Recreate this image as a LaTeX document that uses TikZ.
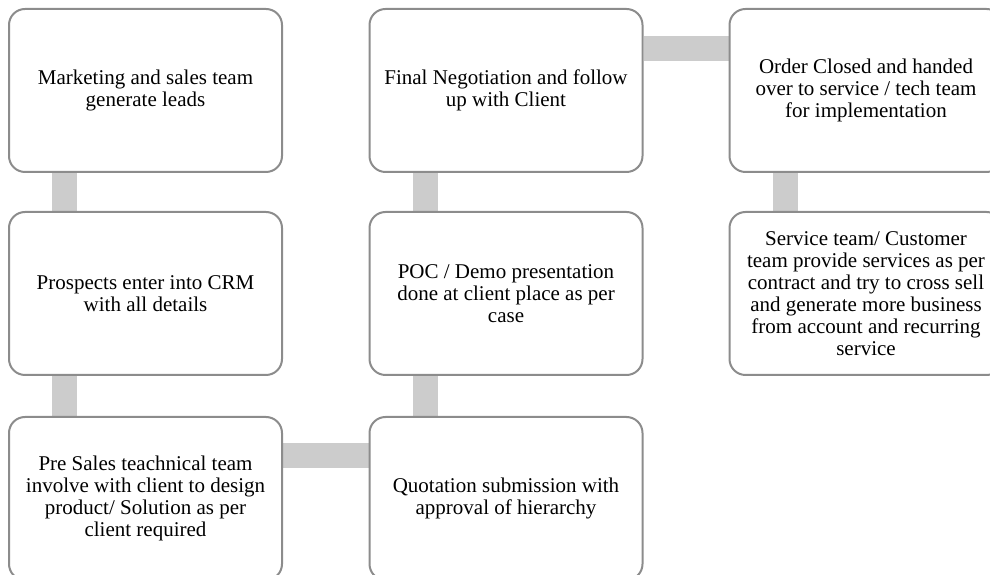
\documentclass[tikz,border=0pt]{standalone}
\usepackage{fontspec}
\setmainfont{Liberation Serif}
\usetikzlibrary{calc,backgrounds}
\definecolor{boxline}{RGB}{140,140,140}
\definecolor{linkfill}{RGB}{204,204,204}
\tikzset{
  stepbox/.style={draw=boxline, line width=2pt, fill=white, rounded corners=16pt,
    minimum width=273pt, minimum height=163pt, inner sep=0pt, align=center,
    font=\fontsize{21}{22}\selectfont},
  link/.style={draw=linkfill, line width=25pt}
}
\begin{document}
\begin{tikzpicture}[x=1pt,y=1pt]
\useasboundingbox (0,0) rectangle (990,575);
\node[stepbox] (a) at (145.5,484.5) {Marketing and sales team\\generate leads};
\node[stepbox] (b) at (145.5,281.5) {Prospects enter into CRM\\with all details};
\node[stepbox] (c) at (145.5,76.5) {Pre Sales teachnical team\\involve with client to design\\product/ Solution as per\\client required};
\node[stepbox] (d) at (506,76.5) {Quotation submission with\\approval of hierarchy};
\node[stepbox] (e) at (506,281.5) {POC / Demo presentation\\done at client place as per\\case};
\node[stepbox] (f) at (506,484.5) {Final Negotiation and follow\\up with Client};
\node[stepbox] (g) at (866,484.5) {Order Closed and handed\\over to service / tech team\\for implementation};
\node[stepbox] (h) at (866,281.5) {Service team/ Customer\\team provide services as per\\contract and try to cross sell\\and generate more business\\from account and recurring\\service};
\begin{pgfonlayer}{background}
\draw[link] ($(a.south west)+(56.5,0)$) -- ($(b.north west)+(56.5,0)$);
\draw[link] ($(b.south west)+(56.5,0)$) -- ($(c.north west)+(56.5,0)$);
\draw[link] ($(c.north east)+(0,-39.5)$) -- ($(d.north west)+(0,-39.5)$);
\draw[link] ($(d.north west)+(56.5,0)$) -- ($(e.south west)+(56.5,0)$);
\draw[link] ($(e.north west)+(56.5,0)$) -- ($(f.south west)+(56.5,0)$);
\draw[link] ($(f.north east)+(0,-40.5)$) -- ($(g.north west)+(0,-40.5)$);
\draw[link] ($(g.south west)+(56.5,0)$) -- ($(h.north west)+(56.5,0)$);
\end{pgfonlayer}
\end{tikzpicture}
\end{document}
